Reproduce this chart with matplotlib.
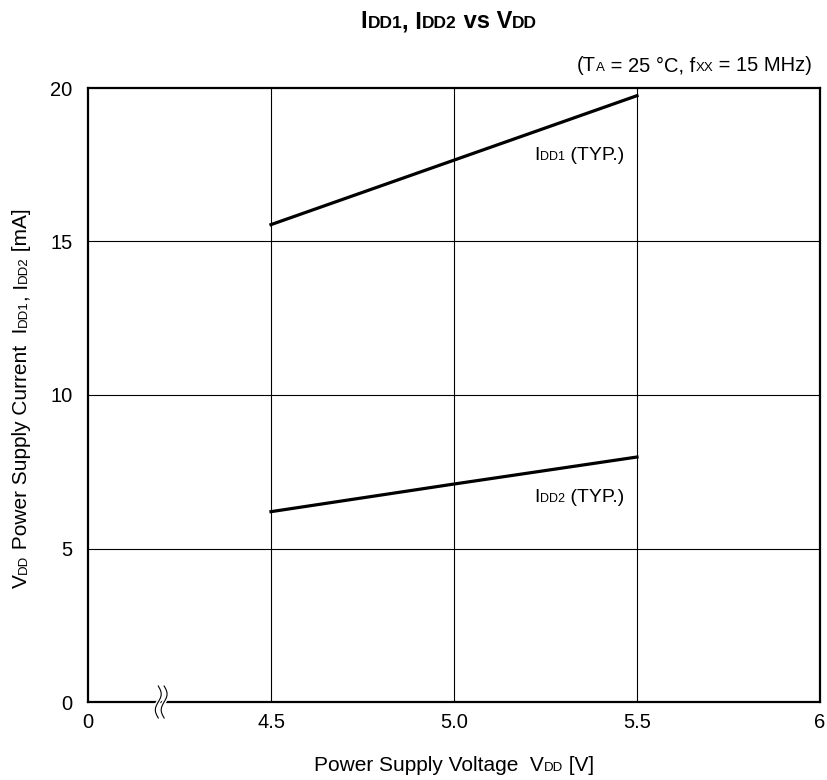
import numpy as np
import matplotlib
matplotlib.use('Agg')
import matplotlib.pyplot as plt
from matplotlib.transforms import IdentityTransform

FONT = 'Liberation Sans'
plt.rcParams['font.family'] = FONT

# data
vdd = [4.5, 5.0, 5.5]
idd1 = [15.55, 17.65, 19.75]
idd2 = [6.2, 7.1, 7.98]
xticks = [0, 4.5, 5.0, 5.5, 6]
xticklabels = ['0', '4.5', '5.0', '5.5', '6']
yticks = [0, 5, 10, 15, 20]

W, H = 827, 780
fig = plt.figure(figsize=(W / 100, H / 100), dpi=100)
ax = fig.add_axes([88 / W, 1 - 702 / H, 732 / W, 614 / H])


# broken x axis: 0..4.5 squeezed into one grid cell
def fwd(x):
    x = np.asarray(x, dtype=float)
    return np.where(x < 4.5, x / 4.5, 1 + (x - 4.5) * 2)


def inv(p):
    p = np.asarray(p, dtype=float)
    return np.where(p < 1, p * 4.5, 4.5 + (p - 1) / 2)


ax.set_xscale('function', functions=(fwd, inv))
ax.set_xlim(0, 6)
ax.set_ylim(0, 20)
ax.set_xticks(xticks)
ax.set_xticklabels(xticklabels)
ax.set_yticks(yticks)
ax.set_yticklabels(['0', '5', '10', '15', '20'])
ax.minorticks_off()
ax.tick_params(length=0, labelsize=14.5, pad=8)
ax.tick_params(axis='y', pad=11)
for s in ax.spines.values():
    s.set_linewidth(1.6)

# grid
for x in [4.5, 5.0, 5.5]:
    ax.axvline(x, color='black', lw=0.8, zorder=1)
for y in [5, 10, 15]:
    ax.axhline(y, color='black', lw=0.8, zorder=1)

ax.plot(vdd, idd1, color='black', lw=2.3, zorder=3)
ax.plot(vdd, idd2, color='black', lw=2.3, zorder=3)

# break mark near the origin
tt = np.linspace(-1, 1, 50)
bx = 0.1
for off in [-0.004, 0.004]:
    xs = bx + off + 0.004 * np.sin(tt * np.pi)
    ys = 0.0 + tt * 0.026
    ax.plot(xs, ys, transform=ax.transAxes, color='white', lw=3, clip_on=False, zorder=5)
for off in [-0.004, 0.004]:
    xs = bx + off + 0.004 * np.sin(tt * np.pi)
    ys = 0.0 + tt * 0.026
    ax.plot(xs, ys, transform=ax.transAxes, color='black', lw=0.8, clip_on=False, zorder=6)

fig.canvas.draw()
R = fig.canvas.get_renderer()
for lab in ax.get_yticklabels():
    lab.set_verticalalignment('center_baseline')


def width(s, fs, weight):
    t = fig.text(0, 0, '|' + s + '|', fontsize=fs, weight=weight)
    w = t.get_window_extent(R).width
    t.set_text('||')
    w -= t.get_window_extent(R).width
    t.remove()
    return w


def mixed(x, y, pieces, ha='left', rotation=0, weight='normal'):
    ws = [width(s, fs, weight) for s, fs in pieces]
    total = sum(ws)
    start = {'left': 0, 'center': -total / 2, 'right': -total}[ha]
    c, sn = np.cos(np.radians(rotation)), np.sin(np.radians(rotation))
    d = start
    for (s, fs), w in zip(pieces, ws):
        fig.text(x + d * c, y + d * sn, s, fontsize=fs, weight=weight,
                 transform=IdentityTransform(), rotation=rotation,
                 rotation_mode='anchor', ha='left', va='baseline')
        d += w


B, S = 15, 9.5
mixed(449, H - 28, [('I', 17), ('DD1', 12.5), (', I', 17), ('DD2', 12.5),
                    (' vs V', 17), ('DD', 12.5)], ha='center', weight='bold')
mixed(812, H - 71, [('(T', 14.5), ('A', 9.5), (' = 25 °C, f', 14.5), ('XX', 9.5),
                    (' = 15 MHz)', 14.5)], ha='right')

px, py = ax.transData.transform((5.465, 17.65))
mixed(px, py, [('I', 14), ('DD1', 9), (' (TYP.)', 14)], ha='right')
px, py = ax.transData.transform((5.465, 6.5))
mixed(px, py, [('I', 14), ('DD2', 9), (' (TYP.)', 14)], ha='right')

mixed(454, H - 771, [('Power Supply Voltage  V', B), ('DD', S), (' [V]', B)],
      ha='center')
mixed(27, H - 398, [('V', B), ('DD', S), (' Power Supply Current  I', B),
                    ('DD1', S), (', I', B), ('DD2', S), (' [mA]', B)],
      ha='center', rotation=90)

fig.savefig('out.png', dpi=100)
